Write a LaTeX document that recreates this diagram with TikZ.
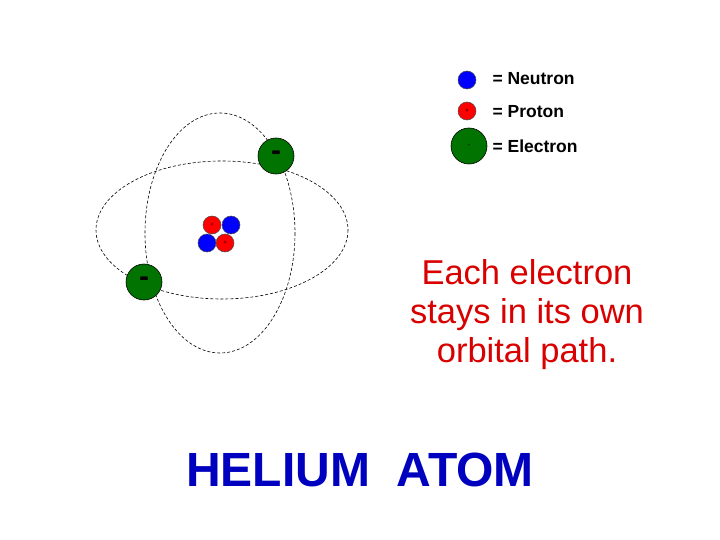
\documentclass[tikz,border=0pt]{standalone}
\usepackage{fontspec}
\setmainfont{Liberation Sans}
\begin{document}
\begin{tikzpicture}[x=1pt,y=-1pt,
  orbit/.style={draw=black,line width=0.6pt,dash pattern=on 3pt off 2pt},
  neutron/.style={circle,draw=black!70,fill=blue,minimum size=18pt,inner sep=0pt,line width=0.5pt},
  proton/.style={circle,draw=black!70,fill=red,minimum size=18pt,inner sep=0pt,line width=0.5pt,font=\fontsize{6}{6}\selectfont},
  electron/.style={circle,draw=black,fill=green!45!black,minimum size=36pt,inner sep=0pt,line width=0.6pt,font=\fontsize{30}{30}\selectfont\bfseries},
  legend/.style={anchor=west,font=\fontsize{17.5}{17.5}\selectfont\bfseries}]
\useasboundingbox (0,0) rectangle (720,540);
\fill[white] (0,0) rectangle (720,540);
\draw[orbit] (222,230) ellipse [x radius=126, y radius=69];
\draw[orbit] (220,233) ellipse [x radius=75, y radius=120];
\node[electron] (e1) at (276,156) {-};
\node[electron] (e2) at (144,282) {-};
\node[proton] (p1) at (212,225) {+};
\node[neutron] (n1) at (231,225) {};
\node[neutron] (n2) at (207,243) {};
\node[proton] (p2) at (225,243) {+};
\node[neutron] (ln) at (467,80) {};
\node[proton] (lp) at (467,111) {+};
\node[electron,font=\fontsize{8}{8}\selectfont] (le) at (469,146) {-};
\node[legend] (tn) at (489,79) {= Neutron};
\node[legend] (tp) at (489,112) {= Proton};
\node[legend] (te) at (489,146) {= Electron};
\node[text=red!85!black,align=center,font=\fontsize{34.5}{39}\selectfont] (msg) at (527,315) {Each electron\\stays in its own\\orbital path.};
\node[text=blue!75!black,font=\fontsize{48}{48}\selectfont\bfseries] (title) at (360,470) {HELIUM\ \ ATOM};
\end{tikzpicture}
\end{document}
